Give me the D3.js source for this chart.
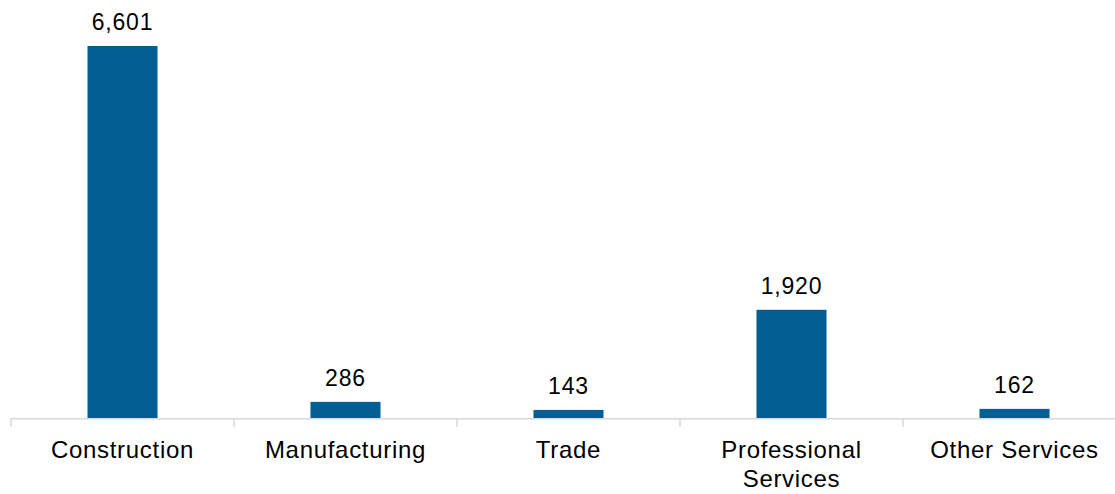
<!DOCTYPE html>
<html>
<head>
<meta charset="utf-8">
<script src="https://cdn.jsdelivr.net/npm/d3@7"></script>
<style>
  body { margin: 0; background: #fff; }
  text { font-family: "Liberation Sans", Arial, sans-serif; fill: #000; }
</style>
</head>
<body>
<div id="chart"></div>
<script>
// data
var categories = ["Construction", "Manufacturing", "Trade", "Professional Services", "Other Services"];
var values = [6601, 286, 143, 1920, 162];
// wrapped tick labels
var tickLines = [["Construction"], ["Manufacturing"], ["Trade"], ["Professional", "Services"], ["Other Services"]];

var W = 1115, H = 494;
var baseY = 418, topY = 46;

var svg = d3.select("#chart").append("svg")
    .attr("width", W).attr("height", H);

var x = d3.scaleBand().domain(categories).range([11, 1126]).paddingInner(0.686).paddingOuter(0.343);
var y = d3.scaleLinear().domain([0, d3.max(values)]).range([baseY, topY]);

// axis line and category boundary ticks
var step = x.step();
svg.append("line").attr("x1", 11).attr("x2", W).attr("y1", baseY + 0.75).attr("y2", baseY + 0.75)
    .attr("stroke", "#d9d9d9").attr("stroke-width", 1.5);
svg.selectAll(".tk").data(d3.range(categories.length + 1)).enter().append("line")
    .attr("class", "tk")
    .attr("x1", function(i) { return 11 + i * step; })
    .attr("x2", function(i) { return 11 + i * step; })
    .attr("y1", baseY).attr("y2", baseY + 9)
    .attr("stroke", "#d9d9d9").attr("stroke-width", 1.5);

// bars
svg.selectAll(".bar").data(values).enter().append("rect")
    .attr("class", "bar")
    .attr("x", function(d, i) { return x(categories[i]); })
    .attr("width", x.bandwidth())
    .attr("y", function(d) { return y(d); })
    .attr("height", function(d) { return baseY - y(d); })
    .attr("fill", "#035f93");

// value labels
var fmt = d3.format(",");
svg.selectAll(".val").data(values).enter().append("text")
    .attr("class", "val")
    .attr("x", function(d, i) { return x(categories[i]) + x.bandwidth() / 2; })
    .attr("y", function(d) { return y(d) - 16; })
    .attr("text-anchor", "middle")
    .style("font-size", "23px").style("letter-spacing", "0.8px")
    .text(function(d) { return fmt(d); });

// category labels
var cat = svg.selectAll(".cat").data(tickLines).enter().append("text")
    .attr("class", "cat")
    .attr("text-anchor", "middle")
    .attr("x", function(d, i) { return x(categories[i]) + x.bandwidth() / 2; })
    .attr("y", 458)
    .style("font-size", "24px").style("letter-spacing", "0.7px");
cat.selectAll("tspan").data(function(d) { return d; }).enter().append("tspan")
    .attr("x", function() { return d3.select(this.parentNode).attr("x"); })
    .attr("dy", function(d, i) { return i === 0 ? 0 : 29; })
    .text(function(d) { return d; });
</script>
</body>
</html>
